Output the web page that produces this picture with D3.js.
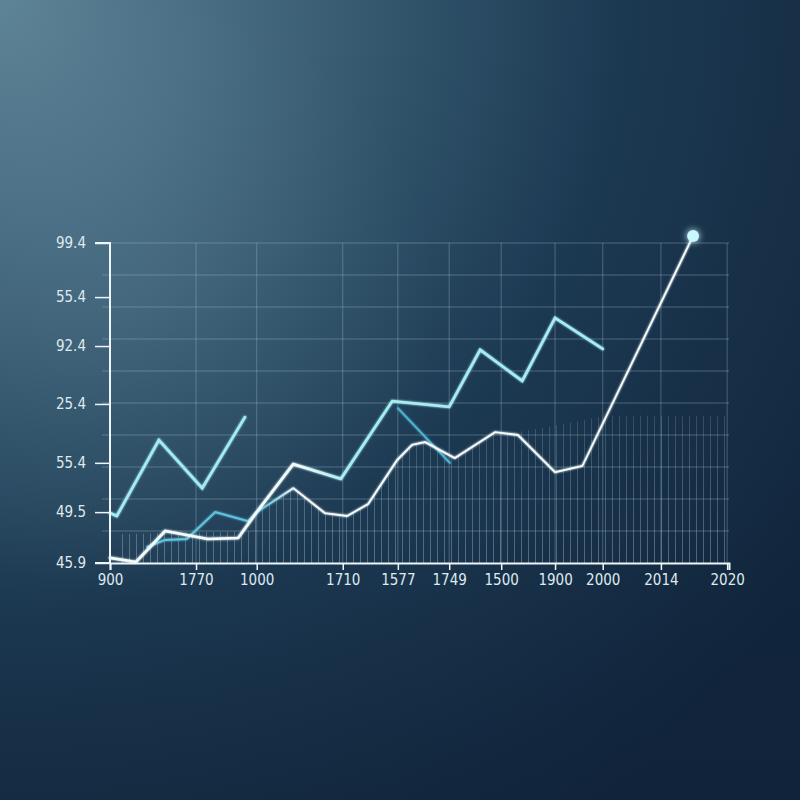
<!DOCTYPE html>
<html>
<head>
<meta charset="utf-8">
<script src="https://cdn.jsdelivr.net/npm/d3@7/dist/d3.min.js"></script>
<style>
  html, body { margin: 0; padding: 0; background: #132a42; }
  svg { display: block; }
</style>
</head>
<body>
<svg id="chart" width="800" height="800"></svg>
<script>
// ---- data (x, y in chart units: x 0..100 across the axis, y 0..100 up the axis) ----
const xTickPos    = [0, 13.9, 23.7, 37.6, 46.5, 54.8, 63.2, 71.9, 79.6, 89.0, 99.7];
const xTickLabels = ["900", "1770", "1000", "1710", "1577", "1749", "1500", "1900", "2000", "2014", "2020"];
const yTickPos    = [0, 15.9, 31.3, 49.7, 67.8, 83.1, 100];
const yTickLabels = ["45.9", "49.5", "55.4", "25.4", "92.4", "55.4", "99.4"];
const gridRows    = [10, 20, 30, 40, 50, 60, 70, 80, 90, 100];

const seriesA_x = [0, 1.1, 7.9, 14.9, 21.8];
const seriesA_y = [15.6, 14.7, 38.4, 23.4, 45.6];

const seriesB_x = [0, 4.2, 8.9, 15.8, 20.7, 23.7, 29.6, 37.3, 45.6, 54.8, 59.8, 66.6, 71.9, 79.6];
const seriesB_y = [1.6, 0.3, 10.0, 7.5, 7.8, 15.9, 30.9, 26.3, 50.6, 48.8, 66.6, 56.9, 76.6, 66.9];

const seriesC_x = [6.0, 8.9, 12.4, 17.0, 22.3, 23.7, 29.6, 34.7, 38.3, 41.7, 46.4, 48.8, 50.9, 55.7, 62.2, 65.9, 71.9, 76.3, 94.2];
const seriesC_y = [5.0, 7.2, 7.5, 15.9, 13.1, 15.9, 23.4, 15.6, 14.7, 18.4, 32.2, 36.9, 37.8, 32.8, 40.9, 40.0, 28.4, 30.3, 102.2];

const seriesD_x = [46.5, 54.9];
const seriesD_y = [48.4, 31.3];

const hatch_x = [1, 23.0, 23.7, 29.6, 34.7, 38.3, 41.7, 46.4, 48.8, 50.9, 55.7, 62.2, 66, 72, 80, 100];
const hatch_y = [9, 10, 15.9, 23.4, 15.6, 14.7, 18.4, 32.2, 36.9, 37.8, 32.8, 40.9, 41, 43, 46, 46];

// ---- layout ----
const W = 800, H = 800;
const FONT = '"Liberation Sans Narrow", "DejaVu Sans Condensed", "Liberation Sans", sans-serif';
const svg = d3.select("#chart");
const x = d3.scaleLinear().domain([0, 100]).range([110, 729]);
const y = d3.scaleLinear().domain([0, 100]).range([563, 243]);

const defs = svg.append("defs");

// background gradients
const bg = defs.append("radialGradient").attr("id", "bg")
  .attr("gradientUnits", "userSpaceOnUse").attr("cx", 0).attr("cy", 0).attr("r", 1000);
[[0, "#5e8497"], [0.2, "#4a6e84"], [0.42, "#2f5269"], [0.62, "#1c3952"], [1, "#11253c"]]
  .forEach(([o, c]) => bg.append("stop").attr("offset", o).attr("stop-color", c));

const beam = defs.append("radialGradient").attr("id", "beam")
  .attr("gradientUnits", "userSpaceOnUse").attr("cx", 140).attr("cy", 300).attr("r", 300);
beam.append("stop").attr("offset", 0).attr("stop-color", "#8fb3c4").attr("stop-opacity", 0.12);
beam.append("stop").attr("offset", 1).attr("stop-color", "#8fb3c4").attr("stop-opacity", 0);

const vign = defs.append("linearGradient").attr("id", "vign").attr("x1", 0).attr("y1", 0).attr("x2", 0).attr("y2", 1);
vign.append("stop").attr("offset", 0.65).attr("stop-color", "#0d1e33").attr("stop-opacity", 0);
vign.append("stop").attr("offset", 1).attr("stop-color", "#0d1e33").attr("stop-opacity", 0.25);

svg.append("rect").attr("width", W).attr("height", H).attr("fill", "url(#bg)");
svg.append("rect").attr("width", W).attr("height", H).attr("fill", "url(#beam)");
svg.append("rect").attr("width", W).attr("height", H).attr("fill", "url(#vign)");

// hatch pattern
const pat = defs.append("pattern").attr("id", "hatch").attr("patternUnits", "userSpaceOnUse")
  .attr("width", 7).attr("height", 10);
pat.append("line").attr("x1", 3.5).attr("x2", 3.5).attr("y1", 0).attr("y2", 10)
  .attr("stroke", "#b3cedc").attr("stroke-width", 1).attr("stroke-opacity", 0.38);

const hatchFade = defs.append("linearGradient").attr("id", "hatchFade")
  .attr("gradientUnits", "userSpaceOnUse").attr("x1", 0).attr("x2", 0).attr("y1", y(46)).attr("y2", y(0));
hatchFade.append("stop").attr("offset", 0).attr("stop-color", "#fff").attr("stop-opacity", 0.5);
hatchFade.append("stop").attr("offset", 1).attr("stop-color", "#fff").attr("stop-opacity", 1);
const mask = defs.append("mask").attr("id", "hmask");
mask.append("rect").attr("width", W).attr("height", H).attr("fill", "url(#hatchFade)");

// line gradients
function grad(id, c1, c2, fromUnit, toUnit) {
  const g = defs.append("linearGradient").attr("id", id).attr("gradientUnits", "userSpaceOnUse")
    .attr("x1", x(fromUnit)).attr("x2", x(toUnit)).attr("y1", 0).attr("y2", 0);
  g.append("stop").attr("offset", 0).attr("stop-color", c1);
  g.append("stop").attr("offset", 1).attr("stop-color", c2);
}
grad("gradB", "#f2fbfc", "#a6ecf3", 30, 38);
grad("gradC", "#5fc6e0", "#f4fbfc", 25, 30);

// glow filter
const glow = defs.append("filter").attr("id", "glow").attr("x", "-20%").attr("y", "-20%").attr("width", "140%").attr("height", "140%");
glow.append("feGaussianBlur").attr("stdDeviation", 1.3).attr("result", "b");
const fm = glow.append("feMerge");
fm.append("feMergeNode").attr("in", "b");
fm.append("feMergeNode").attr("in", "SourceGraphic");

const dotGlow = defs.append("filter").attr("id", "dotGlow").attr("x", "-150%").attr("y", "-150%").attr("width", "400%").attr("height", "400%");
dotGlow.append("feGaussianBlur").attr("stdDeviation", 3.5).attr("result", "b");
const fm2 = dotGlow.append("feMerge");
fm2.append("feMergeNode").attr("in", "b");
fm2.append("feMergeNode").attr("in", "SourceGraphic");

// ---- grid ----
const grid = svg.append("g");
grid.selectAll("line.h").data(gridRows).join("line")
  .attr("x1", x(0) - 8).attr("x2", x(100)).attr("y1", d => y(d)).attr("y2", d => y(d))
  .attr("stroke", "#a6c2d1").attr("stroke-opacity", 0.36).attr("stroke-width", 1.1);
grid.selectAll("line.v").data(xTickPos.slice(1)).join("line")
  .attr("x1", d => x(d)).attr("x2", d => x(d)).attr("y1", y(0)).attr("y2", y(100))
  .attr("stroke", "#a6c2d1").attr("stroke-opacity", 0.32).attr("stroke-width", 1.1);

// hatch area
const hatchPts = hatch_x.map((v, i) => [v, hatch_y[i]]);
svg.append("path").datum(hatchPts)
  .attr("d", d3.area().x(d => x(d[0])).y0(y(0)).y1(d => y(d[1])))
  .attr("fill", "url(#hatch)").attr("mask", "url(#hmask)");

// ---- lines ----
const lineGen = d3.line().x(d => x(d[0])).y(d => y(d[1]));
function drawLine(xs, ys, stroke, width) {
  svg.append("path").datum(xs.map((v, i) => [v, ys[i]]))
    .attr("d", lineGen).attr("fill", "none").attr("stroke", stroke)
    .attr("stroke-width", width).attr("stroke-linejoin", "miter").attr("stroke-linecap", "round")
    .attr("filter", "url(#glow)");
}
drawLine(seriesD_x, seriesD_y, "#4fb5d6", 1.8);
drawLine(seriesC_x, seriesC_y, "url(#gradC)", 1.9);
drawLine(seriesB_x, seriesB_y, "url(#gradB)", 2.7);
drawLine(seriesA_x, seriesA_y, "#a3ecf3", 2.7);

// end dot
const lastC = seriesC_x.length - 1;
svg.append("circle").attr("cx", x(seriesC_x[lastC])).attr("cy", y(seriesC_y[lastC])).attr("r", 6)
  .attr("fill", "#c9f7fd").attr("filter", "url(#dotGlow)");

// ---- axes ----
const xAxis = d3.axisBottom(x).tickValues(xTickPos).tickFormat((d, i) => xTickLabels[i]).tickSize(7).tickPadding(4);
const gx = svg.append("g").attr("transform", `translate(0,${y(0)})`).call(xAxis);
gx.select(".domain").attr("stroke", "#eef5f8").attr("stroke-width", 2);
gx.selectAll(".tick line").attr("stroke", "#eef5f8").attr("stroke-width", 1.5);

const yAxis = d3.axisLeft(y).tickValues(yTickPos).tickFormat((d, i) => yTickLabels[i]).tickSize(15).tickPadding(9);
const gy = svg.append("g").attr("transform", `translate(${x(0)},0)`).call(yAxis);
gy.select(".domain").attr("stroke", "#eef5f8").attr("stroke-width", 2).attr("d", `M-15,${y(100)}H0V${y(0)}H-15`);
gy.selectAll(".tick line").attr("stroke", "#eef5f8").attr("stroke-width", 1.5);

svg.selectAll(".tick text")
  .attr("font-family", FONT).attr("font-size", 15).attr("fill", "#dfe9ef");
gx.selectAll("text").attr("dy", "0.75em");
</script>
</body>
</html>
